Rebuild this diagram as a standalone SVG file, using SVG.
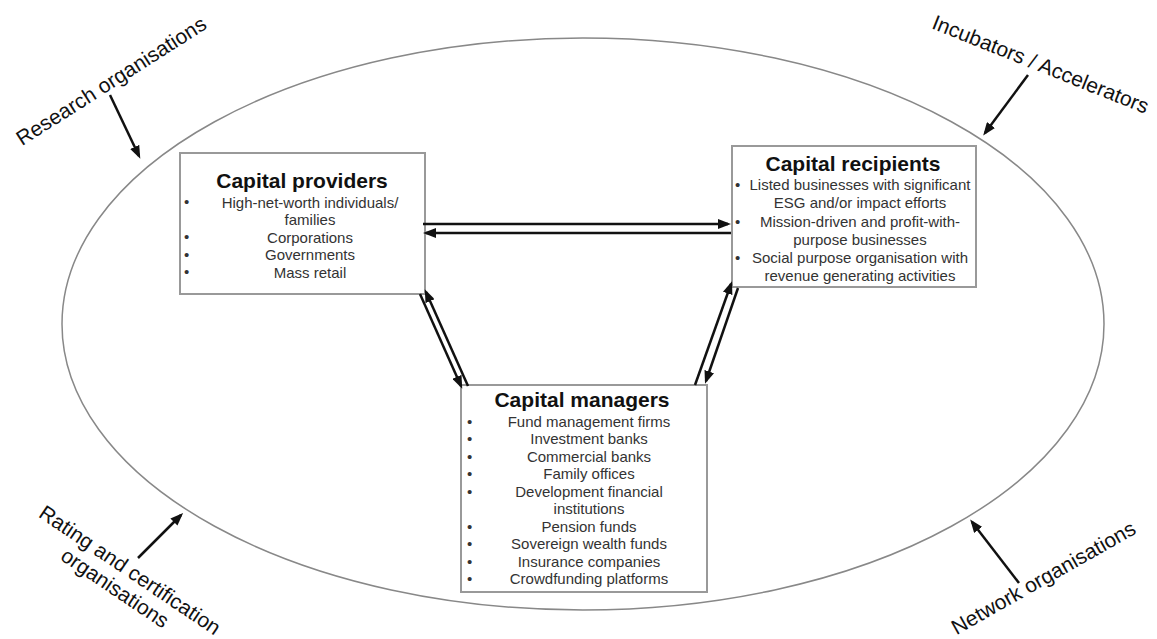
<svg xmlns="http://www.w3.org/2000/svg" width="1157" height="639" viewBox="0 0 1157 639">
<defs>
<marker id="ah" markerUnits="userSpaceOnUse" markerWidth="13" markerHeight="10" refX="10" refY="5" orient="auto">
<path d="M0,0 L13,5 L0,10 z" fill="#111"/>
</marker>
<style>
.box{fill:#fff;stroke:#999;stroke-width:2}
.title{font-family:"Liberation Sans",Arial,sans-serif;font-weight:bold;font-size:21px;fill:#111;text-anchor:middle}
.item{font-family:"Liberation Sans",Arial,sans-serif;font-size:15px;fill:#333;text-anchor:middle}
.bul{font-family:"Liberation Sans",Arial,sans-serif;font-size:15px;fill:#333}
.outer{font-family:"Liberation Sans",Arial,sans-serif;font-size:21px;fill:#111;text-anchor:middle}
.arr{stroke:#111;stroke-width:2.5;fill:none;marker-end:url(#ah)}
</style>
</defs>
<rect width="1157" height="639" fill="#fff"/>
<g id="ecosystem">
<ellipse cx="583" cy="324" rx="521" ry="286" fill="none" stroke="#888" stroke-width="1.5"/>
</g>
<g id="providers">
<rect class="box" x="180" y="153" width="245" height="141"/>
<text class="title" x="302" y="188">Capital providers</text>
<text class="bul" x="184" y="207">•</text>
<text class="bul" x="184" y="242">•</text>
<text class="bul" x="184" y="260">•</text>
<text class="bul" x="184" y="277">•</text>
<text class="item" x="310" y="207.5">High-net-worth individuals/</text>
<text class="item" x="310" y="225">families</text>
<text class="item" x="310" y="242.5">Corporations</text>
<text class="item" x="310" y="260">Governments</text>
<text class="item" x="310" y="277.5">Mass retail</text>
</g>
<g id="recipients">
<rect class="box" x="732" y="146" width="244" height="141"/>
<text class="title" x="853" y="171">Capital recipients</text>
<text class="bul" x="735" y="190">•</text>
<text class="bul" x="735" y="227">•</text>
<text class="bul" x="735" y="263">•</text>
<text class="item" x="860" y="190">Listed businesses with significant</text>
<text class="item" x="860" y="208.2">ESG and/or impact efforts</text>
<text class="item" x="860" y="227">Mission-driven and profit-with-</text>
<text class="item" x="860" y="245.2">purpose businesses</text>
<text class="item" x="860" y="263.4">Social purpose organisation with</text>
<text class="item" x="860" y="281">revenue generating activities</text>
</g>
<g id="managers">
<rect class="box" x="461" y="385" width="246" height="207"/>
<text class="title" x="582" y="407">Capital managers</text>
<g class="bul">
<text x="467" y="426.7">•</text>
<text x="467" y="444.2">•</text>
<text x="467" y="461.7">•</text>
<text x="467" y="479.2">•</text>
<text x="467" y="496.7">•</text>
<text x="467" y="531.7">•</text>
<text x="467" y="549.2">•</text>
<text x="467" y="566.7">•</text>
<text x="467" y="584.2">•</text>
</g>
<text class="item" x="589" y="426.7">Fund management firms</text>
<text class="item" x="589" y="444.2">Investment banks</text>
<text class="item" x="589" y="461.7">Commercial banks</text>
<text class="item" x="589" y="479.2">Family offices</text>
<text class="item" x="589" y="496.7">Development financial</text>
<text class="item" x="589" y="514.2">institutions</text>
<text class="item" x="589" y="531.7">Pension funds</text>
<text class="item" x="589" y="549.2">Sovereign wealth funds</text>
<text class="item" x="589" y="566.7">Insurance companies</text>
<text class="item" x="589" y="584.2">Crowdfunding platforms</text>
</g>
<g id="research">
<text class="outer" transform="translate(115,87) rotate(-32.5)">Research organisations</text>
</g>
<g id="incubators">
<text class="outer" transform="translate(1038,71) rotate(21.8)">Incubators / Accelerators</text>
</g>
<g id="rating">
<text class="outer" transform="translate(126,576) rotate(34)">Rating and certification</text>
<text class="outer" transform="translate(111,594) rotate(34)">organisations</text>
</g>
<g id="network">
<text class="outer" transform="translate(1047,584) rotate(-29.5)">Network organisations</text>
</g>
<g id="connectors">
<line class="arr" x1="423" y1="224" x2="728" y2="224"/>
<line class="arr" x1="731" y1="233" x2="426" y2="233"/>
<line class="arr" x1="420" y1="294" x2="461" y2="386"/>
<line class="arr" x1="468" y1="386" x2="426" y2="292"/>
<line class="arr" x1="695" y1="385" x2="731" y2="284"/>
<line class="arr" x1="738" y1="288" x2="706" y2="381"/>
<line class="arr" x1="110" y1="95" x2="139" y2="156"/>
<line class="arr" x1="1028" y1="75" x2="985" y2="133"/>
<line class="arr" x1="138" y1="558" x2="181" y2="515"/>
<line class="arr" x1="1019" y1="583" x2="972" y2="522"/>
</g>
</svg>
